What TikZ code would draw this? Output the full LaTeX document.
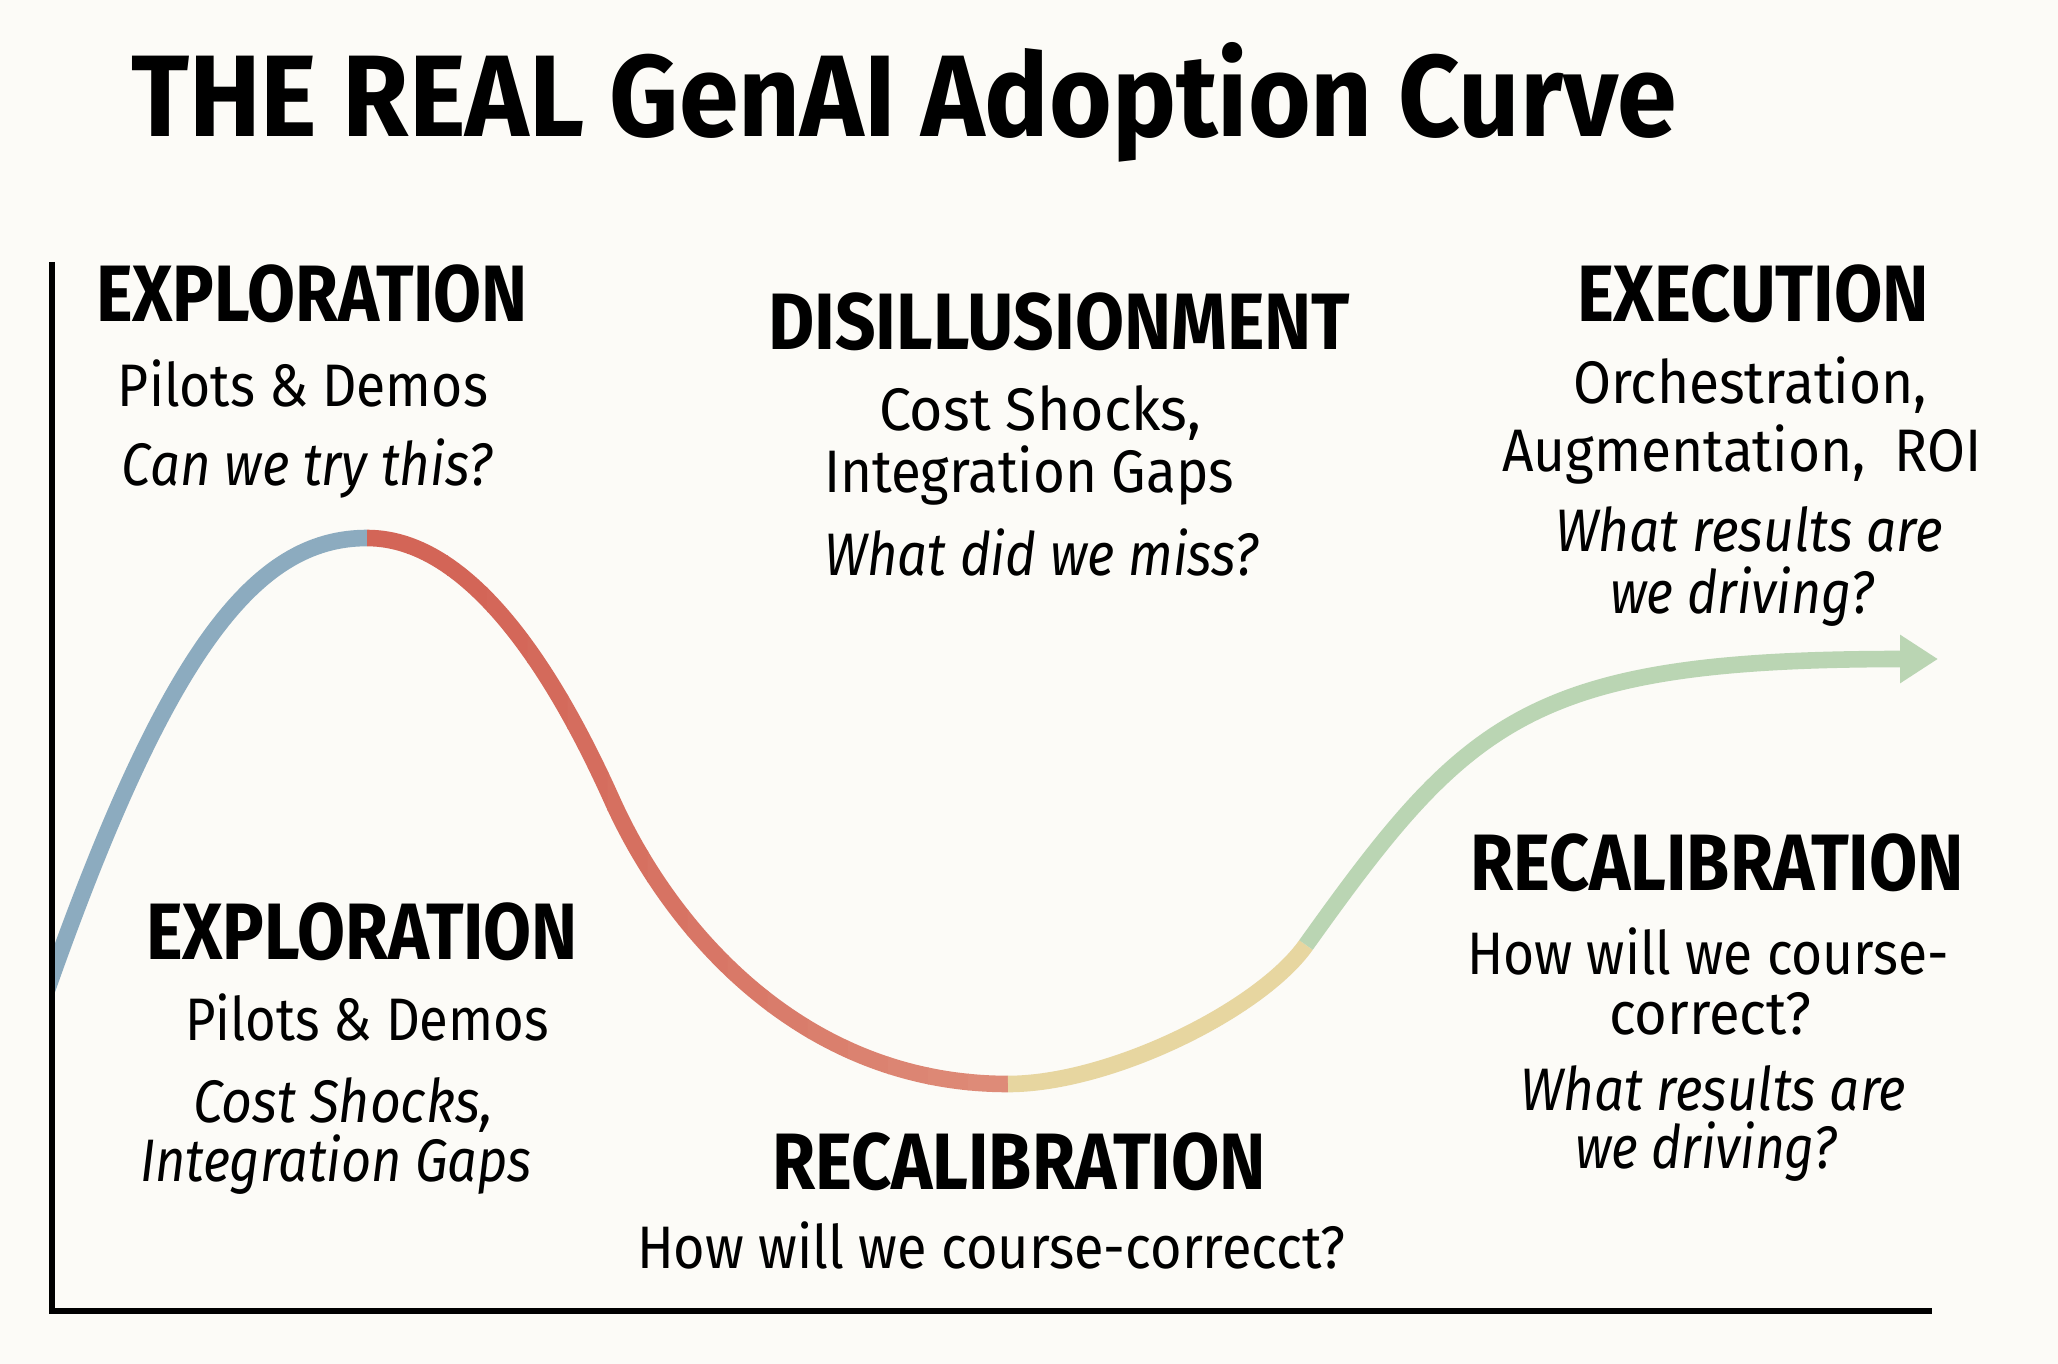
\documentclass[tikz,border=0pt]{standalone}
\usepackage{fontspec}
\setmainfont{Fira Sans}
\usetikzlibrary{arrows.meta}
\definecolor{bg}{RGB}{252,251,247}
\definecolor{cblue}{RGB}{140,171,191}
\definecolor{credA}{RGB}{211,101,87}
\definecolor{credB}{RGB}{222,140,121}
\definecolor{cyel}{RGB}{231,214,160}
\definecolor{cgreen}{RGB}{186,213,179}
\newcommand\fitto[2]{\setbox0\hbox{#2}\edef\fitratio{\fpeval{(#1)/(\the\wd0)}}\scalebox{\fitratio}[1]{\box0}}
\tikzset{
  hd/.style={anchor=base, inner sep=0pt, font=\fontsize{40}{40}\selectfont\bfseries},
  tx/.style={anchor=base, inner sep=0pt, font=\fontsize{30}{30}\selectfont},
  itx/.style={anchor=base, inner sep=0pt, font=\fontsize{30}{30}\selectfont\itshape},
  curve/.style={line width=8.3pt},
  axisline/.style={line width=2.6pt, black},
}
\begin{document}
\begin{tikzpicture}[x=0.5pt, y=-0.5pt]
\fill[bg] (0,0) rectangle (2058,1364);
\useasboundingbox (0,0) rectangle (2058,1364);
% key points
\coordinate (S) at (40,1010);
\coordinate (P) at (367,538);
\coordinate (M) at (612,800);
\coordinate (B) at (1008,1084);
\coordinate (Y) at (1306,945);
\coordinate (E) at (1938,659);
\coordinate (ytop) at (52,262);
\coordinate (orig) at (52,1311);
\coordinate (xend) at (1932,1311);
% blue rise
\begin{scope}
\clip (53,400) rectangle (367,1100);
\draw[curve,cblue] (S) .. controls (165,650) and (255,538) .. (P);
\end{scope}
% red fall with gradient
\foreach \i in {0,...,15}{
  \pgfmathsetmacro{\xa}{367+\i*40.0625}
  \pgfmathsetmacro{\xb}{min(1008,\xa+41)}
  \pgfmathsetmacro{\pct}{max(0,min(100,((\xa+20)-480)/(1008-480)*100))}
  \begin{scope}
  \clip (\xa,450) rectangle (\xb,1150);
  \draw[curve,color=credB!\pct!credA] (P) .. controls (477,538) and (563,691) .. (M) .. controls (669,927) and (800,1084) .. (B);
  \end{scope}
}
% yellow
\draw[curve,cyel] (B) .. controls (1110,1084) and (1260,1010) .. (Y);
% green with arrow
\draw[curve,cgreen,-{Triangle[length=19pt,width=23pt]}] (Y) .. controls (1468,718) and (1530,659) .. (E);
% axes
\draw[axisline] (ytop) -- (orig) -- (xend);
% title
\node[anchor=base, inner sep=0pt, font=\fontsize{58}{58}\selectfont\bfseries] (title) at (904,137) {\fitto{773pt}{THE REAL GenAI Adoption Curve}};
% top-left
\node[hd] (expA) at (312,322) {\fitto{216pt}{EXPLORATION}};
\node[tx] (expA1) at (303,407) {\fitto{185pt}{Pilots \& Demos}};
\node[itx] (expA2) at (307,486) {\fitto{185pt}{Can we try this?}};
% middle top
\node[hd] (dis) at (1059,350) {\fitto{291pt}{DISILLUSIONMENT}};
\node[tx] (dis1) at (1040,430) {\fitto{161pt}{Cost Shocks,}};
\node[tx] (dis2) at (1029,492) {\fitto{205pt}{Integration Gaps}};
\node[itx] (dis3) at (1041,575) {\fitto{217pt}{What did we miss?}};
% top-right
\node[hd] (exe) at (1753,322) {\fitto{176pt}{EXECUTION}};
\node[tx] (exe1) at (1750,404) {\fitto{177pt}{Orchestration,}};
\node[tx] (exe2) at (1742,472) {\fitto{240pt}{Augmentation,\ \ ROI}};
\node[itx] (exe3) at (1749,551) {\fitto{194pt}{What results are}};
\node[itx] (exe4) at (1742,613) {\fitto{132pt}{we driving?}};
% bottom-left
\node[hd] (expB) at (362,959) {\fitto{216pt}{EXPLORATION}};
\node[tx] (expB1) at (367,1040) {\fitto{182pt}{Pilots \& Demos}};
\node[itx] (expB2) at (343,1122) {\fitto{150pt}{Cost Shocks,}};
\node[itx] (expB3) at (336,1181) {\fitto{196pt}{Integration Gaps}};
% bottom-middle
\node[hd] (recA) at (1019,1189) {\fitto{247pt}{RECALIBRATION}};
\node[tx] (recA1) at (991,1268) {\fitto{354pt}{How will we course-correcct?}};
% right-middle
\node[hd] (recB) at (1717,890) {\fitto{247pt}{RECALIBRATION}};
\node[tx] (recB1) at (1708,974) {\fitto{241pt}{How will we course-}};
\node[tx] (recB2) at (1710,1034) {\fitto{101pt}{correct?}};
\node[itx] (recB3) at (1713,1110) {\fitto{193pt}{What results are}};
\node[itx] (recB4) at (1706,1168) {\fitto{131pt}{we driving?}};
\end{tikzpicture}
\end{document}
